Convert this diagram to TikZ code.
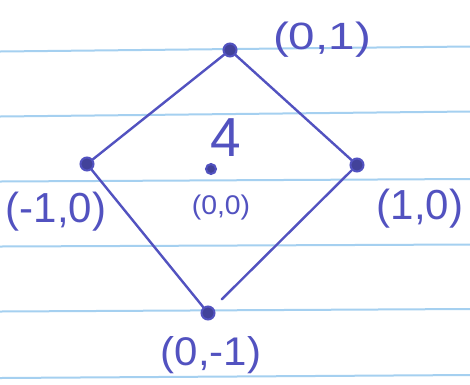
\documentclass[tikz,border=0pt]{standalone}
\usepackage{fontspec}
\setmainfont{Liberation Sans}
\definecolor{pen}{RGB}{82,82,192}
\definecolor{rule}{RGB}{165,208,240}
\tikzset{
  pt/.style={circle,fill=pen!80!black,draw=pen,line width=2pt,inner sep=0pt,minimum size=13pt},
  edge/.style={draw=pen,line width=2.4pt,line cap=round},
  lbl/.style={text=pen,inner sep=0pt},
  paper/.style={draw=rule,line width=2pt}
}
\begin{document}
\begin{tikzpicture}[x=1pt,y=-1pt]
\useasboundingbox (0,0) rectangle (470,384);
\fill[white] (0,0) rectangle (470,384);
% ruled paper lines
\foreach \a/\b in {51.5/46.5, 116.5/111.5, 181.5/179, 246.5/244.5, 311.5/309, 378/375}
  \draw[paper] (0,\a) -- (470,\b);
% points
\node[pt] (t) at (230,50) {};
\node[pt] (l) at (87,164) {};
\node[pt] (r) at (357,165) {};
\node[pt,minimum size=10pt] (c) at (211,169) {};
\node[pt] (b) at (208,313) {};
% edges
\draw[edge] (t) -- (l);
\draw[edge] (t) -- (r);
\draw[edge] (l) -- (b);
\draw[edge,shorten >=12pt] (r) -- (b);
% labels
\node[lbl,font=\fontsize{38}{38}\selectfont,xscale=1.25] (tl) at (322,40) {(0,1)};
\node[lbl,font=\fontsize{55}{55}\selectfont] (four) at (226,138) {4};
\node[lbl,font=\fontsize{27}{27}\selectfont,xscale=1.05] (cl) at (221,208) {(0,0)};
\node[lbl,font=\fontsize{42}{42}\selectfont] (ll) at (56,212) {(-1,0)};
\node[lbl,font=\fontsize{42}{42}\selectfont] (rl) at (420,209) {(1,0)};
\node[lbl,font=\fontsize{40}{40}\selectfont,xscale=1.05] (bl) at (211,355) {(0,-1)};
\end{tikzpicture}
\end{document}
